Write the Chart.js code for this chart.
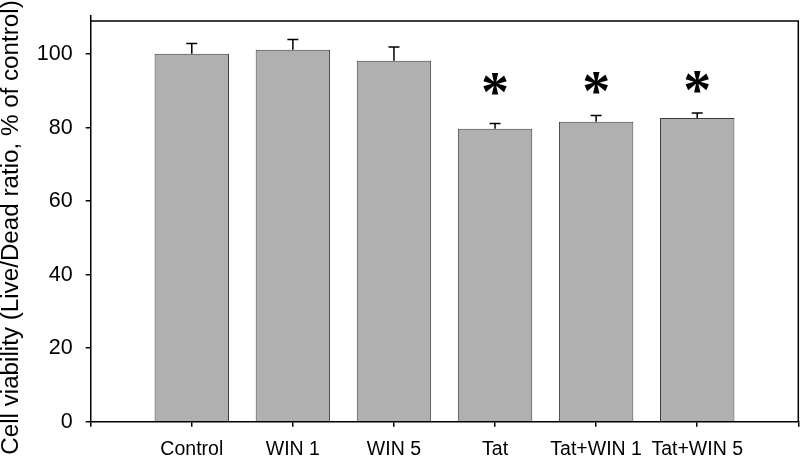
<!DOCTYPE html>
<html>
<head>
<meta charset="utf-8">
<script src="https://cdn.jsdelivr.net/npm/chart.js@4.4.0/dist/chart.umd.min.js"></script>
<style>
  html, body { margin: 0; padding: 0; background: #fff; }
  #wrap { width: 800px; height: 456px; }
</style>
</head>
<body>
<div id="wrap"><canvas id="chart"></canvas></div>
<script>
// data
const categories = ['Control', 'WIN 1', 'WIN 5', 'Tat', 'Tat+WIN 1', 'Tat+WIN 5'];
const viability = [100.1, 101.2, 98.2, 79.7, 81.6, 82.6];
const errors = [2.8, 2.8, 3.7, 1.4, 1.7, 1.4];
const starLevel = [null, null, null, 91.8, 92.1, 92.5];
const yTicks = [0, 20, 40, 60, 80, 100];
const yTitle = 'Cell viability (Live/Dead ratio, % of control)';

const FONT = '"Liberation Sans", Arial, sans-serif';

// upper error bars + significance stars
const errorBars = {
    id: 'errorBars',
    afterDatasetsDraw(chart) {
        const ctx = chart.ctx;
        const xs = chart.scales.x, ys = chart.scales.y;
        ctx.save();
        ctx.strokeStyle = '#000';
        ctx.lineWidth = 1.5;
        viability.forEach((v, i) => {
            const x = xs.getPixelForValue(i);
            const y0 = ys.getPixelForValue(v);
            const y1 = ys.getPixelForValue(v + errors[i]);
            ctx.beginPath();
            ctx.moveTo(x, y0);
            ctx.lineTo(x, y1);
            ctx.moveTo(x - 5.5, y1);
            ctx.lineTo(x + 5.5, y1);
            ctx.stroke();
        });
        ctx.fillStyle = '#000';
        ctx.font = 'bold 56px "Liberation Serif", serif';
        ctx.textAlign = 'center';
        ctx.textBaseline = 'alphabetic';
        const m = ctx.measureText('*');
        const mid = (m.actualBoundingBoxAscent - m.actualBoundingBoxDescent) / 2;
        starLevel.forEach((s, i) => {
            if (s == null) return;
            ctx.fillText('*', xs.getPixelForValue(i), ys.getPixelForValue(s) + mid);
        });
        ctx.restore();
    }
};

// top/right frame and rotated y title
const frame = {
    id: 'frame',
    afterDraw(chart) {
        const { ctx, chartArea: a } = chart;
        ctx.save();
        ctx.strokeStyle = '#000';
        ctx.lineWidth = 1.5;
        ctx.beginPath();
        ctx.moveTo(a.left, a.top - 6);
        ctx.lineTo(a.left, a.top);
        ctx.lineTo(a.right, a.top);
        ctx.lineTo(a.right, a.bottom);
        ctx.stroke();

        ctx.translate(11, 227.5);
        ctx.rotate(-Math.PI / 2);
        ctx.fillStyle = '#000';
        ctx.font = '24.2px ' + FONT;
        ctx.textAlign = 'center';
        ctx.textBaseline = 'middle';
        ctx.fillText(yTitle, 0, 0);
        ctx.restore();
    }
};

const noPad = s => {
    s.paddingTop = 0;
    s.paddingBottom = 0;
    s.paddingLeft = 0;
    s.paddingRight = 0;
};

new Chart(document.getElementById('chart'), {
    type: 'bar',
    data: {
        datasets: [{
            data: viability.map((v, i) => ({ x: i, y: v })),
            backgroundColor: '#b0b0b0',
            borderColor: '#3c3c3c',
            borderWidth: 1,
            categoryPercentage: 1,
            barPercentage: 0.736
        }]
    },
    options: {
        responsive: true,
        maintainAspectRatio: false,
        animation: false,
        layout: { padding: { top: 21, right: 1.7, left: 0, bottom: 0 } },
        plugins: {
            legend: { display: false },
            tooltip: { enabled: false }
        },
        scales: {
            x: {
                type: 'linear',
                min: -1,
                max: 6,
                offset: false,
                bounds: 'data',
                afterFit: s => { s.height = 456 - 421.7; noPad(s); },
                afterBuildTicks: s => {
                    s.ticks = [-1, 0, 1, 2, 3, 4, 5, 6].map(v => ({ value: v }));
                },
                grid: { offset: false, drawOnChartArea: false, drawTicks: true, tickLength: 5, color: '#000', lineWidth: 1.5 },
                border: { color: '#000', width: 1.5 },
                ticks: {
                    autoSkip: false,
                    maxRotation: 0,
                    padding: 11,
                    color: '#000',
                    font: { family: FONT, size: 19.5 },
                    callback: v => categories[v] ?? ''
                }
            },
            y: {
                min: 0,
                max: 109,
                bounds: 'data',
                grace: 0,
                afterFit: s => { s.width = 90.7; noPad(s); },
                afterBuildTicks: s => {
                    s.ticks = yTicks.map(v => ({ value: v }));
                },
                grid: { drawOnChartArea: false, drawTicks: true, tickLength: 5, color: '#000', lineWidth: 1.5 },
                border: { color: '#000', width: 1.5 },
                ticks: {
                    padding: 13,
                    color: '#000',
                    font: { family: FONT, size: 21.5 }
                }
            }
        }
    },
    plugins: [errorBars, frame]
});
</script>
</body>
</html>
